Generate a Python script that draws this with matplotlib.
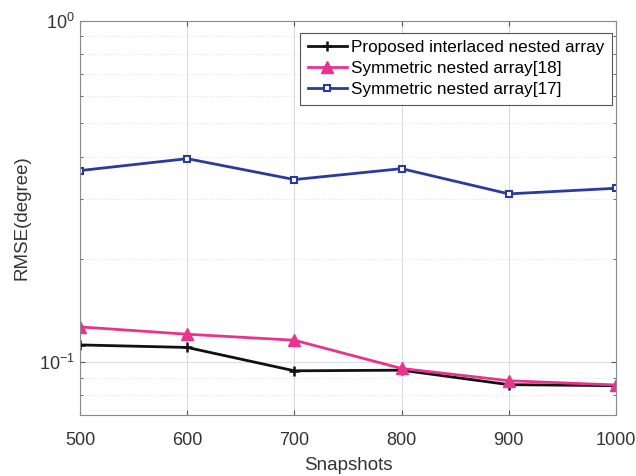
import matplotlib
matplotlib.use("Agg")
import matplotlib.pyplot as plt
import matplotlib.ticker as plt_ticker

plt.rcParams['font.family'] = ['Liberation Sans', 'DejaVu Sans']

# data
snapshots = [500, 600, 700, 800, 900, 1000]
rmse_proposed = [0.1123, 0.1104, 0.0943, 0.0947, 0.0859, 0.0853]
rmse_sym18 = [0.1268, 0.1207, 0.1159, 0.0958, 0.0882, 0.0857]
rmse_sym17 = [0.3639, 0.3944, 0.3425, 0.3687, 0.3110, 0.3230]

labels = ["Proposed interlaced nested array",
          "Symmetric nested array[18]",
          "Symmetric nested array[17]"]

fig = plt.figure(figsize=(6.36, 4.76), dpi=100)
ax = fig.add_axes([80/636, 1-415/476, (616-80)/636, (415-20.7)/476])

ax.plot(snapshots, rmse_proposed, color="#111111", lw=2, marker="+",
        ms=7, mew=1.8, label=labels[0])
ax.plot(snapshots, rmse_sym18, color="#e8338f", lw=2, marker="^",
        ms=8, label=labels[1])
ax.plot(snapshots, rmse_sym17, color="#2b3a9e", lw=2, marker="s",
        ms=5, mfc="white", mew=1.5, label=labels[2])

ax.set_yscale("log")
ax.set_xlim(500, 1000)
ax.set_ylim(0.07, 1)
ax.set_xticks(snapshots)
ax.yaxis.set_major_locator(plt_ticker.LogLocator(base=10))
ax.yaxis.set_minor_locator(plt_ticker.LogLocator(base=10, subs=range(2, 10)))
ax.yaxis.set_minor_formatter(plt_ticker.NullFormatter())

ax.grid(True, which="major", color="#dcdcdc", lw=0.8)
ax.grid(True, which="minor", axis="y", color="#e4e4e4", lw=0.8, ls=":")
ax.set_axisbelow(True)

ax.tick_params(which="both", direction="in", colors="#555555",
               labelsize=13, labelcolor="#333333", right=True, top=True)
ax.tick_params(axis="x", pad=12)
for s in ax.spines.values():
    s.set_color("#8a8a8a")

ax.set_xlabel("Snapshots", fontsize=13.5, color="#333333", labelpad=6)
ax.set_ylabel("RMSE(degree)", fontsize=13.5, color="#333333", labelpad=6)

leg = ax.legend(loc="upper right", bbox_to_anchor=(0.993, 0.97), fontsize=12.3,
                handlelength=2.3, handletextpad=0.25, borderpad=0.45,
                labelspacing=0.35, fancybox=False, framealpha=1,
                borderaxespad=0)
leg.get_frame().set_edgecolor("#555555")
leg.get_frame().set_linewidth(0.8)

fig.savefig("out.png", dpi=100)
